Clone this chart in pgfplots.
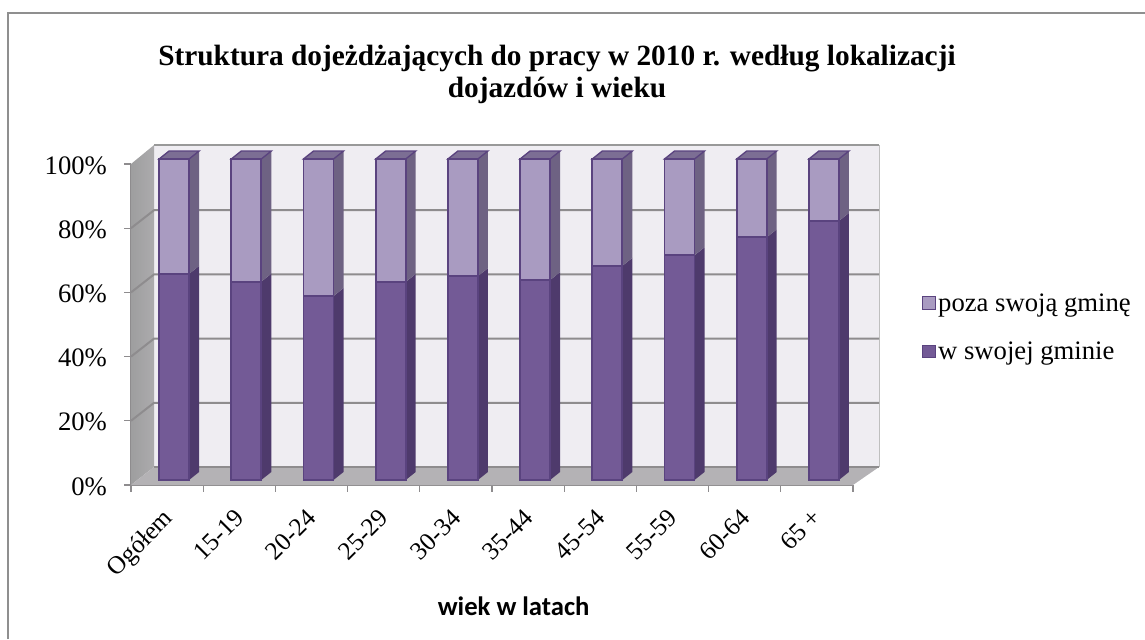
\documentclass[border=0pt]{standalone}
\usepackage{pgfplots}
\pgfplotsset{compat=1.18}
\usepackage{fontspec}
\setmainfont{Liberation Serif}
\newfontfamily\carlito{Carlito}
\definecolor{darkfront}{HTML}{735A96}
\definecolor{lightfront}{HTML}{A99BC1}
\definecolor{barline}{HTML}{5A437F}
\definecolor{darkside}{HTML}{4E3A6C}
\definecolor{lightside}{HTML}{6E6283}
\definecolor{topface}{HTML}{7C6E94}
\definecolor{backwall}{HTML}{EFEDF2}
\definecolor{sidewallA}{HTML}{9E9E9F}
\definecolor{sidewallB}{HTML}{ACABAD}
\definecolor{floorc}{HTML}{B4B2B5}
\definecolor{gridc}{HTML}{8E8C8E}
\definecolor{framec}{HTML}{8F8F8F}
\pgfplotsset{squarelegend/.style={legend image code/.code={\draw[##1,line width=0.75pt] (0pt,-4.5pt) rectangle (9.5pt,5pt);}}}
% side face of one bar segment: centre index, low, high, colour
\newcommand\sideseg[4]{%
  \addplot[forget plot,fill=#4,draw=none] coordinates {
    ({#1+0.8048},{#2+1.558}) ({#1+0.9433},{#2+1.558+2.49})
    ({#1+0.9433},{#3+1.558+2.49}) ({#1+0.8048},{#3+1.558}) } -- cycle;}
% top face of one bar: centre index, total
\newcommand\topface[2]{%
  \addplot[forget plot,fill=topface,draw=barline,line width=1pt] coordinates {
    ({#1+0.3892},{#2+1.558}) ({#1+0.5277},{#2+1.558+2.49})
    ({#1+0.9433},{#2+1.558+2.49}) ({#1+0.8048},{#2+1.558}) } -- cycle;}
\begin{document}
\begin{tikzpicture}[x=0.75pt,y=0.75pt]
\path[use as bounding box] (0,0) rectangle (1145,639);
\draw[framec,line width=2pt] (8,0) -- (8,626) -- (1145,626);
\begin{axis}[
  at={(98.25pt,115.5pt)},anchor=south west,scale only axis,
  width=541.5pt,height=240.75pt,
  xmin=0,xmax=10,ymin=0,ymax=100,clip=false,
  axis x line=bottom,axis y line=left,
  axis line style={-,draw=gridc,line width=1pt},
  tick style={draw=gridc,line width=1pt},
  tick align=outside,
  ytick={0,20,40,60,80,100},
  yticklabel={\pgfmathprintnumber{\tick}\%},
  /pgf/number format/assume math mode=true,
  major tick length=5pt,minor tick length=5pt,
  y tick label style={font=\fontsize{20}{22}\selectfont,xshift=-9.5pt,yshift=-1pt},
  xtick={0.5,1.5,2.5,3.5,4.5,5.5,6.5,7.5,8.5,9.5},
  x tick style={draw=none},
  minor xtick={0,1,2,3,4,5,6,7,8,9,10},
  minor x tick style={draw=gridc,line width=1pt},
  xticklabels={Ogółem,15-19,20-24,25-29,30-34,35-44,45-54,55-59,60-64,65 +},
  x tick label style={font=\fontsize{19}{21}\selectfont,rotate=45,anchor=north east,xshift=-7.9pt,yshift=-1.9pt},
]
% walls and floor
\addplot[forget plot,fill=backwall,draw=none] coordinates {(0.3186,5.6)(10.36,5.6)(10.36,105.9)(0.3186,105.9)} -- cycle;
\addplot[forget plot,left color=sidewallA,right color=sidewallB,draw=none] coordinates {(0,0)(0.3186,5.6)(0.3186,105.9)(0,100)} -- cycle;
\addplot[forget plot,fill=floorc,draw=none] coordinates {(0,0)(10,0)(10.36,5.6)(0.3186,5.6)} -- cycle;
\addplot[forget plot,draw=black!25,line width=0.75pt] coordinates {(10.36,5.6)(10.36,105.9)};
\addplot[forget plot,draw=black!40,line width=2pt] coordinates {(0.3186,105.9)(10.36,105.9)};
\addplot[forget plot,draw=gridc,line width=1.5pt] coordinates {(0.3186,5.6)(10.36,5.6)};
% gridlines
\addplot[forget plot,draw=gridc,line width=1.5pt] coordinates {(0,20)(0.3186,25.6)(10.36,25.6)};
\addplot[forget plot,draw=gridc,line width=1.5pt] coordinates {(0,40)(0.3186,45.6)(10.36,45.6)};
\addplot[forget plot,draw=gridc,line width=1.5pt] coordinates {(0,60)(0.3186,65.6)(10.36,65.6)};
\addplot[forget plot,draw=gridc,line width=1.5pt] coordinates {(0,80)(0.3186,85.6)(10.36,85.6)};
% side and top faces
\sideseg{0}{0}{64.2}{darkside}\sideseg{0}{64.2}{100}{lightside}\topface{0}{100}
\sideseg{1}{0}{61.8}{darkside}\sideseg{1}{61.8}{100}{lightside}\topface{1}{100}
\sideseg{2}{0}{57.3}{darkside}\sideseg{2}{57.3}{100}{lightside}\topface{2}{100}
\sideseg{3}{0}{61.7}{darkside}\sideseg{3}{61.7}{100}{lightside}\topface{3}{100}
\sideseg{4}{0}{63.5}{darkside}\sideseg{4}{63.5}{100}{lightside}\topface{4}{100}
\sideseg{5}{0}{62.3}{darkside}\sideseg{5}{62.3}{100}{lightside}\topface{5}{100}
\sideseg{6}{0}{66.7}{darkside}\sideseg{6}{66.7}{100}{lightside}\topface{6}{100}
\sideseg{7}{0}{70.0}{darkside}\sideseg{7}{70.0}{100}{lightside}\topface{7}{100}
\sideseg{8}{0}{75.6}{darkside}\sideseg{8}{75.6}{100}{lightside}\topface{8}{100}
\sideseg{9}{0}{80.7}{darkside}\sideseg{9}{80.7}{100}{lightside}\topface{9}{100}
\end{axis}
\begin{axis}[
  at={(98.25pt,115.5pt)},anchor=south west,scale only axis,
  width=541.5pt,height=240.75pt,
  xmin=0,xmax=10,ymin=-1.558,ymax=98.442,clip=false,
  hide axis,
  ybar stacked,bar width=22.5pt,
  legend style={draw=none,fill=none,
    font=\fontsize{20}{22}\selectfont,row sep=17.5pt,
    inner sep=0pt,
    /tikz/every even column/.append style={column sep=3pt}},
  legend cell align=left,
  reverse legend,
  legend style={at={(1.095,0.49)},anchor=west},
]
\addplot[fill=darkfront,draw=barline,line width=1.4pt,squarelegend] coordinates {
 (0.597,64.2)(1.597,61.8)(2.597,57.3)(3.597,61.7)(4.597,63.5)
 (5.597,62.3)(6.597,66.7)(7.597,70.0)(8.597,75.6)(9.597,80.7)};
\addplot[fill=lightfront,draw=barline,line width=1.4pt,squarelegend] coordinates {
 (0.597,35.8)(1.597,38.2)(2.597,42.7)(3.597,38.3)(4.597,36.5)
 (5.597,37.7)(6.597,33.3)(7.597,30.0)(8.597,24.4)(9.597,19.3)};
\legend{w swojej gminie,poza swoją gminę}
\node[font=\bfseries\fontsize{22}{24}\selectfont,align=center] at (axis cs:5.9,126.4) {Struktura dojeżdżających do pracy w 2010 r. według lokalizacji\\dojazdów i wieku};
\node[font=\carlito\bfseries\fontsize{20}{22}\selectfont] at (axis cs:5.3,-39.3) {wiek w latach};
\end{axis}
\end{tikzpicture}
\end{document}
